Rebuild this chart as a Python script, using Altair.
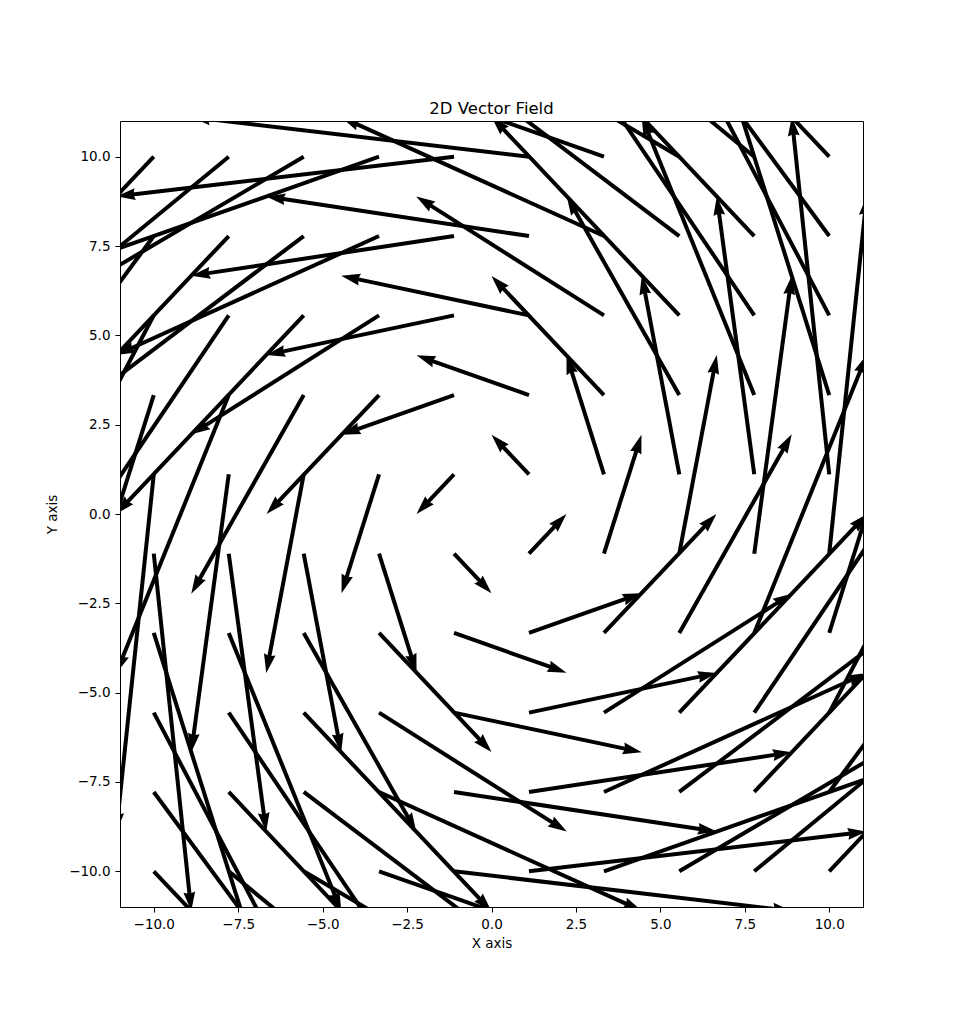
import math
import altair as alt
import pandas as pd

# Grid of arrow tails (x columns, y rows)
x_grid = [-10.0, -7.78, -5.56, -3.33, -1.11, 1.11, 3.33, 5.56, 7.78, 10.0]
y_grid = [-10.0, -7.78, -5.56, -3.33, -1.11, 1.11, 3.33, 5.56, 7.78, 10.0]
# Horizontal component for each row (depends on y) and vertical component for each column (depends on x)
u_by_row = [10.0, 7.78, 5.56, 3.33, 1.11, -1.11, -3.33, -5.56, -7.78, -10.0]
v_by_col = [-10.0, -7.78, -5.56, -3.33, -1.11, 1.11, 3.33, 5.56, 7.78, 10.0]

tick_values = [-10.0, -7.5, -5.0, -2.5, 0.0, 2.5, 5.0, 7.5, 10.0]

W, H = 743, 786
XMIN, XMAX, YMIN, YMAX = -11, 11, -11, 11
kx = W / (XMAX - XMIN)
ky = H / (YMAX - YMIN)
HEAD_BACK = 14.0  # px, shaft stops inside the head

rows = []
for j, y in enumerate(y_grid):
    for i, x in enumerate(x_grid):
        u = u_by_row[j]
        v = v_by_col[i]
        tx, ty = x + u, y + v
        dxp, dyp = u * kx, v * ky
        L = math.hypot(dxp, dyp)
        f = max(0.0, 1 - HEAD_BACK / L)
        ang = (math.degrees(math.atan2(dxp, dyp)) + 360) % 360
        rows.append(dict(x=x, y=y, sx=x + u * f, sy=y + v * f, tx=tx, ty=ty, ang=ang))
df = pd.DataFrame(rows)

font = "DejaVu Sans"
xs = alt.Scale(domain=[XMIN, XMAX], nice=False, zero=False)
ys = alt.Scale(domain=[YMIN, YMAX], nice=False, zero=False)

xaxis = alt.Axis(values=tick_values, format=".1f", title="X axis", grid=False,
                 labelFont=font, labelFontSize=13.5, labelColor="black",
                 titleFont=font, titleFontSize=13.5, titleFontWeight="normal", titleColor="black",
                 tickColor="black", tickSize=5, labelPadding=5, titlePadding=6, domain=False,
                 labelFlush=False)
yaxis = alt.Axis(values=tick_values, format=".1f", title="Y axis", grid=False,
                 labelFont=font, labelFontSize=13.5, labelColor="black",
                 titleFont=font, titleFontSize=13.5, titleFontWeight="normal", titleColor="black",
                 tickColor="black", tickSize=5, labelPadding=5, titlePadding=9, domain=False,
                 labelFlush=False)

base = alt.Chart(df)
shafts = base.mark_rule(color="black", strokeWidth=4, clip=True, strokeCap="butt").encode(
    x=alt.X("x:Q", scale=xs, axis=xaxis),
    y=alt.Y("y:Q", scale=ys, axis=yaxis),
    x2="sx:Q",
    y2="sy:Q",
)
heads = base.mark_point(
    shape="M0,0L0.31,1L0,0.9L-0.31,1Z", filled=True, fill="black", opacity=1,
    strokeWidth=0, size=1444, clip=True
).encode(
    x=alt.X("tx:Q", scale=xs),
    y=alt.Y("ty:Q", scale=ys),
    angle=alt.Angle("ang:Q", scale=None),
)

chart = (shafts + heads).properties(
    width=W, height=H,
    title=alt.TitleParams("2D Vector Field", font=font, fontSize=16.5, fontWeight="normal",
                          color="black", offset=4),
    autosize=alt.AutoSizeParams(type="none"),
    padding={"left": 112, "top": 113, "right": 80, "bottom": 90},
).configure_view(stroke="black", strokeWidth=1)

chart.save("out.html", embed_options={"renderer": "svg", "actions": False})
